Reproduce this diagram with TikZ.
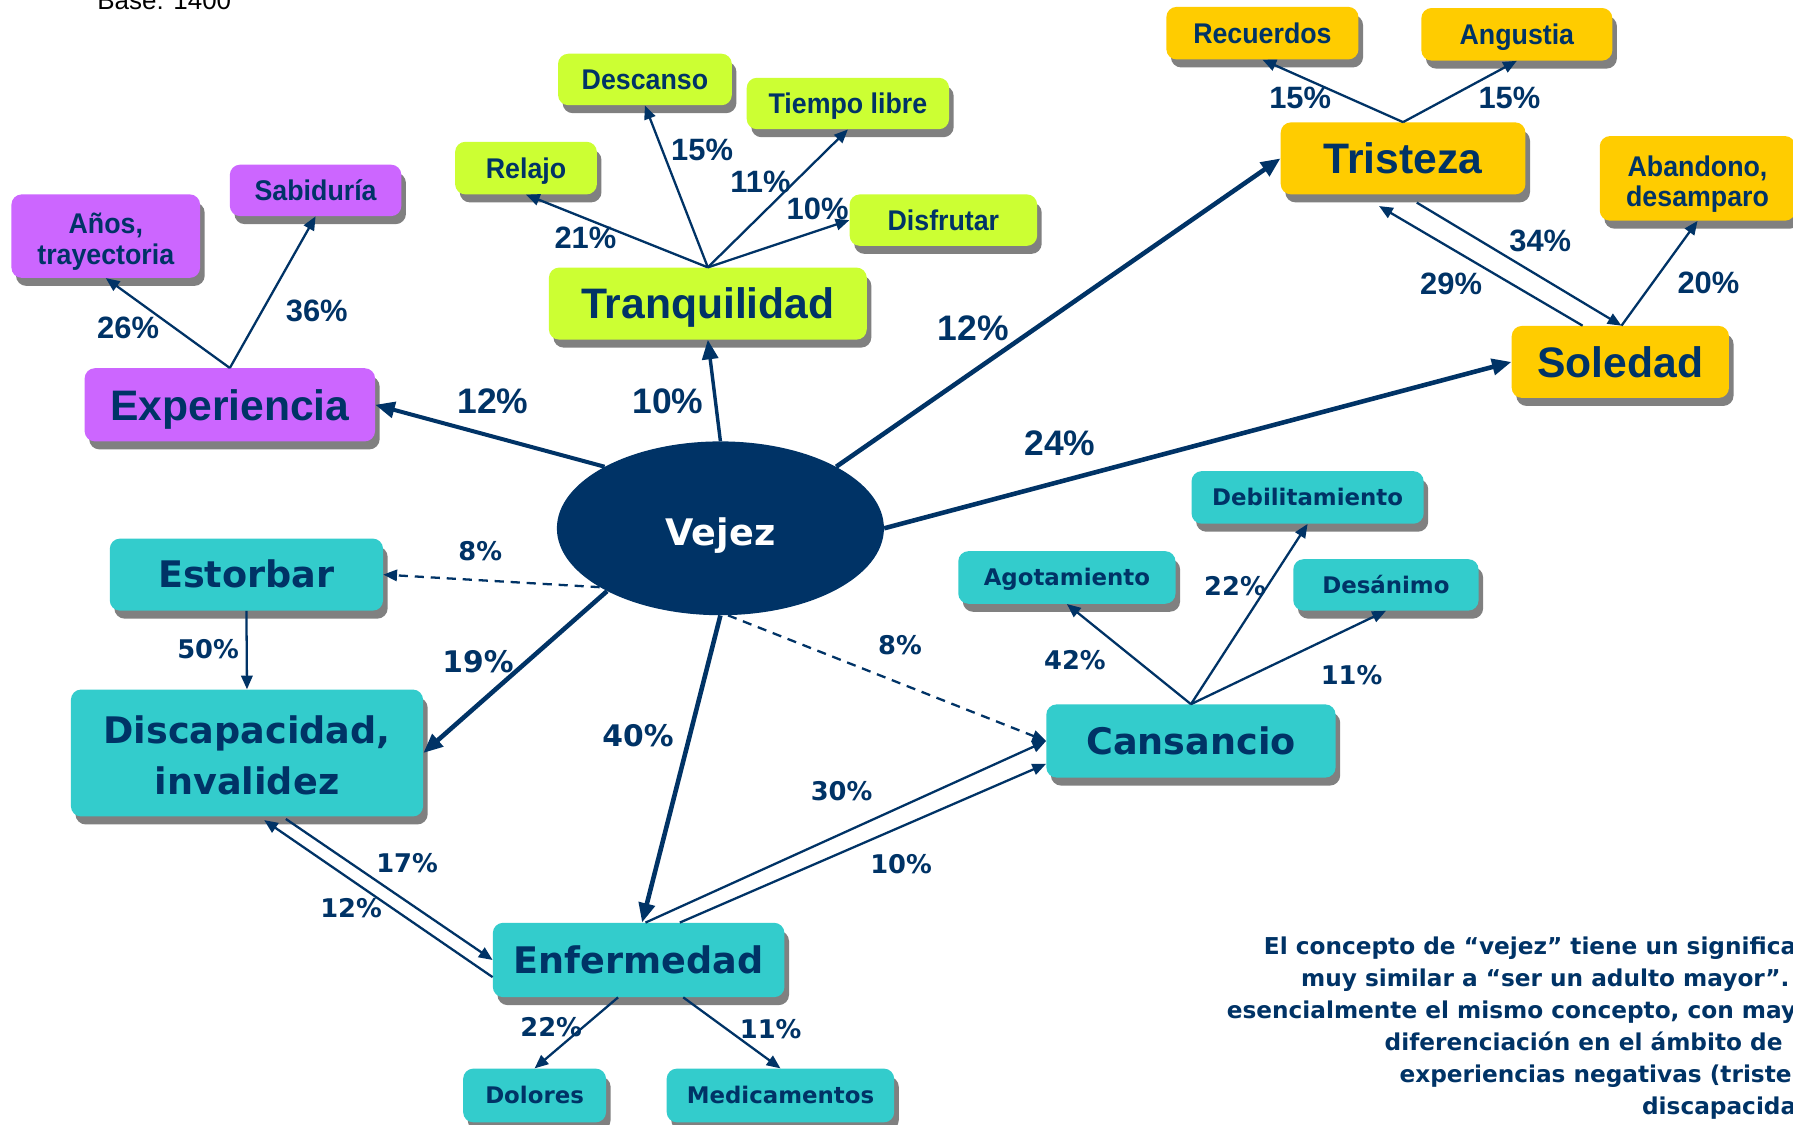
\documentclass[tikz,border=0pt]{standalone}
\usepackage{fontspec}
\setmainfont{Liberation Sans}
\newfontfamily\nars[FakeStretch=0.94]{Liberation Sans}
\newfontfamily\ver{DejaVu Sans}
\usetikzlibrary{arrows.meta,shadows,calc,shapes.geometric}
\definecolor{navy}{HTML}{003366}
\definecolor{purp}{HTML}{CC66FF}
\definecolor{lime}{HTML}{CCFF33}
\definecolor{gold}{HTML}{FFCC00}
\definecolor{teal2}{HTML}{33CCCC}
\definecolor{shade}{HTML}{808080}
\tikzset{
  x=1pt,y=-1pt,
  box/.style={rectangle,rounded corners=9pt,inner sep=0pt,text=navy,align=center,
    general shadow={fill=shade,shadow xshift=4pt,shadow yshift=-7pt}},
  nbig/.style={box,font=\bfseries\fontsize{37.3}{38}\selectfont,text height=26.7pt,text depth=0pt},
  nsmall/.style={box,font=\nars\bfseries\fontsize{24.9}{27}\selectfont,text height=17.8pt,text depth=0pt},
  vbig/.style={box,fill=teal2,font=\ver\bfseries\fontsize{32}{44}\selectfont,text height=23.3pt,text depth=0pt},
  vsmall/.style={box,fill=teal2,font=\ver\bfseries\fontsize{20}{22}\selectfont,text height=14.6pt,text depth=0pt},
  multi/.style={text height={},text depth={}},
  pN/.style={text=navy,inner sep=0pt,font=\bfseries\fontsize{27}{27}\selectfont},
  pNB/.style={text=navy,inner sep=0pt,font=\bfseries\fontsize{31}{31}\selectfont},
  pV/.style={text=navy,inner sep=0pt,font=\ver\bfseries\fontsize{22.5}{23}\selectfont},
  pVB/.style={text=navy,inner sep=0pt,font=\ver\bfseries\fontsize{26}{26}\selectfont},
  thin/.style={draw=navy,line width=2pt,-{Triangle[length=12pt,width=10pt]}},
  thick/.style={draw=navy,line width=4pt,-{Triangle[length=17pt,width=14pt]}},
  dash2/.style={draw=navy,line width=2pt,dash pattern=on 8pt off 6pt,-{Triangle[length=12pt,width=10pt]}},
}
\begin{document}
\begin{tikzpicture}
\useasboundingbox (0,0) rectangle (1568,983);
\fill[white] (0,0) rectangle (1568,983);
\clip (0,0) rectangle (1568,983);

\node[anchor=base west,inner sep=0pt,font=\fontsize{22.7}{24}\selectfont] (base) at (85,8.7) {Base: 1400};

% purple
\node[nsmall,multi,fill=purp,minimum width=165pt,minimum height=73pt] (anos) at (92.5,206.5) {\rule{0pt}{27pt}Años,\\trayectoria};
\node[nsmall,fill=purp,minimum width=150pt,minimum height=45pt] (sabi) at (276,166.5) {Sabiduría};
\node[nbig,fill=purp,minimum width=254pt,minimum height=64pt] (exper) at (201,354) {Experiencia};
% lime
\node[nsmall,fill=lime,minimum width=124pt,minimum height=46pt] (relajo) at (460,147) {Relajo};
\node[nsmall,fill=lime,minimum width=152pt,minimum height=45pt] (descanso) at (564,69.5) {Descanso};
\node[nsmall,fill=lime,minimum width=177pt,minimum height=45pt] (tiempo) at (741.5,90.5) {Tiempo libre};
\node[nsmall,fill=lime,minimum width=164pt,minimum height=45pt] (disfrutar) at (825,192.5) {Disfrutar};
\node[nbig,fill=lime,minimum width=278pt,minimum height=63pt] (tranq) at (619,265.5) {Tranquilidad};
% gold
\node[nsmall,fill=gold,minimum width=168pt,minimum height=46pt] (recuerdos) at (1104,29) {Recuerdos};
\node[nsmall,fill=gold,minimum width=167pt,minimum height=46pt] (angustia) at (1326.5,30) {Angustia};
\node[nbig,fill=gold,minimum width=214pt,minimum height=63pt] (tristeza) at (1227,138.5) {Tristeza};
\node[nsmall,multi,fill=gold,minimum width=171pt,minimum height=74pt] (abandono) at (1484.5,156) {\rule{0pt}{28pt}Abandono,\\desamparo};
\node[nbig,fill=gold,minimum width=190pt,minimum height=63pt] (soledad) at (1417,316.5) {Soledad};
% center
\node[ellipse,fill=navy,inner sep=0pt,minimum width=286pt,minimum height=152pt,text=white,
  font=\ver\bfseries\fontsize{32}{34}\selectfont,text height=29.3pt,text depth=0pt] (vejez) at (630,462) {Vejez};
% teal
\node[vbig,minimum width=239pt,minimum height=63pt] (estorbar) at (215.5,502.5) {Estorbar};
\node[vbig,multi,minimum width=308pt,minimum height=111pt] (discap) at (216,658.5) {\rule{0pt}{28.4pt}Discapacidad,\\invalidez};
\node[vsmall,minimum width=190pt,minimum height=46pt] (agot) at (933,505) {Agotamiento};
\node[vsmall,minimum width=203pt,minimum height=46pt] (debil) at (1143.5,435) {Debilitamiento};
\node[vsmall,minimum width=162pt,minimum height=45pt] (desan) at (1212,511.5) {Desánimo};
\node[vbig,minimum width=253pt,minimum height=64pt] (cansancio) at (1041.5,648) {Cansancio};
\node[vbig,minimum width=255pt,minimum height=65pt] (enferm) at (558.5,839.5) {Enfermedad};
\node[vsmall,minimum width=125pt,minimum height=47pt] (dolores) at (467.5,958) {Dolores};
\node[vsmall,minimum width=199pt,minimum height=47pt] (medic) at (682.5,958) {Medicamentos};

% connectors from Vejez
\draw[thick,line width=3.5pt] (vejez.152) -- (exper.east);
\draw[thick,line width=3pt] (vejez.north) -- (tranq.south);
\draw[thick] (vejez.28) -- (tristeza.west);
\draw[thick] (vejez.east) -- (soledad.west);
\draw[dash2] (vejez.206) -- (estorbar.east);
\draw[thick] (vejez.209) -- (discap.east);
\draw[thick] (vejez.south) -- ($(enferm.north)+(3,0)$);
\draw[dash2] (vejez.275) -- (cansancio.west);

% Experiencia
\draw[thin] (exper.north) -- (anos.south);
\draw[thin] (exper.north) -- (sabi.south);
% Tranquilidad
\draw[thin] (tranq.north) -- (relajo.south);
\draw[thin] (tranq.north) -- (descanso.south);
\draw[thin] (tranq.north) -- (tiempo.south);
\draw[thin] (tranq.north) -- (disfrutar.west);
% Tristeza
\draw[thin] (tristeza.north) -- (recuerdos.south);
\draw[thin] (tristeza.north) -- (angustia.south);
\draw[thin] ($(tristeza.south)+(12,7)$) -- ($(soledad.north)+(1,0)$);
\draw[thin] ($(soledad.north)+(-33,0)$) -- ($(tristeza.south)+(-21,10)$);
\draw[thin] ($(soledad.north)+(1,0)$) -- (abandono.south);
% lower left
\draw[thin] (estorbar.south) -- (discap.north);
\draw[thin] ($(discap.south)+(34,2)$) -- (enferm.west);
\draw[thin] ($(enferm.west)+(0,15)$) -- ($(discap.south)+(15,3)$);
% Enfermedad
\draw[thin] ($(enferm.north)+(6,0)$) -- (cansancio.west);
\draw[thin] ($(enferm.north)+(36,0)$) -- ($(cansancio.west)+(0,20)$);
\draw[thin] ($(enferm.south)+(-18,0)$) -- (dolores.north);
\draw[thin] ($(enferm.south)+(39,0)$) -- (medic.north);
% Cansancio
\draw[thin] (cansancio.north) -- (agot.south);
\draw[thin] (cansancio.north) -- (debil.south);
\draw[thin] (cansancio.north) -- (desan.south);

% percentages (narrow)
\node[pN] (p26) at (112,287) {26\%};
\node[pN] (p36) at (277,272) {36\%};
\node[pNB] (p12a) at (431,351) {12\%};
\node[pNB] (p10a) at (584,351) {10\%};
\node[pN] (p21) at (512,208) {21\%};
\node[pN] (p15a) at (614,131) {15\%};
\node[pN] (p11a) at (665,159) {11\%};
\node[pN] (p10b) at (715,183) {10\%};
\node[pNB] (p12b) at (851,287) {12\%};
\node[pNB] (p24) at (927,388) {24\%};
\node[pN] (p15b) at (1137,86) {15\%};
\node[pN] (p15c) at (1320,86) {15\%};
\node[pN] (p34) at (1347,211) {34\%};
\node[pN] (p29) at (1269,248) {29\%};
\node[pN] (p20) at (1494,247) {20\%};
% percentages (wide)
\node[pV] (p8a) at (420,482) {8\%};
\node[pV] (p50) at (182,568) {50\%};
\node[pVB] (p19) at (418,579) {19\%};
\node[pVB] (p40) at (558,643) {40\%};
\node[pV] (p8b) at (787,564) {8\%};
\node[pV] (p30) at (736,692) {30\%};
\node[pV] (p10c) at (788,756) {10\%};
\node[pV] (p17) at (356,755) {17\%};
\node[pV] (p12c) at (307,794) {12\%};
\node[pV] (p22a) at (482,898) {22\%};
\node[pV] (p11b) at (674,900) {11\%};
\node[pV] (p42) at (940,577) {42\%};
\node[pV] (p22b) at (1080,513) {22\%};
\node[pV] (p11c) at (1182,590) {11\%};

% note
\node[anchor=north east,inner sep=0pt,align=right,text=navy,
  font=\ver\bfseries\fontsize{20.3}{28}\selectfont] (note) at (1571,819)
  {El concepto de “vejez” tiene un significa\\
   muy similar a “ser un adulto mayor”.\rule{6pt}{0pt}\\
   esencialmente el mismo concepto, con may\\
   diferenciación en el ámbito de\rule{12pt}{0pt}\\
   experiencias negativas (triste\rule{4pt}{0pt}\\
   discapacida};
\end{tikzpicture}
\end{document}
